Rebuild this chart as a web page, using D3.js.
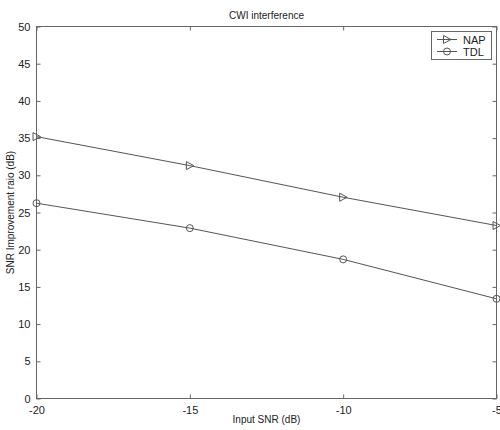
<!DOCTYPE html>
<html>
<head>
<meta charset="utf-8">
<script src="https://cdn.jsdelivr.net/npm/d3@7"></script>
<style>
  body { margin: 0; background: #fff; }
  text { font-family: "Liberation Sans", Arial, sans-serif; fill: #222; }
</style>
</head>
<body>
<script>
var width = 500,
    height = 430;

var inputSnr = [-20, -15, -10, -5];
var napValues = [35.2, 31.3, 27.05, 23.25];
var tdlValues = [26.25, 22.9, 18.7, 13.4];
var xTicks = [-20, -15, -10, -5];
var yTicks = [0, 5, 10, 15, 20, 25, 30, 35, 40, 45, 50];

// plot box (note: "top" is a window property, so use other names)
var boxLeft = 36.5, boxRight = 496.5, boxTop = 26.5, boxBottom = 398.5;

var svg = d3.select("body").append("svg")
    .attr("width", width)
    .attr("height", height);

var x = d3.scaleLinear().domain([-20, -5]).range([boxLeft, boxRight]);
var y = d3.scaleLinear().domain([0, 50]).range([boxBottom, boxTop]);

var axisColor = "#666";

// box
svg.append("rect")
  .attr("x", boxLeft).attr("y", boxTop)
  .attr("width", boxRight - boxLeft).attr("height", boxBottom - boxTop)
  .attr("fill", "none").attr("stroke", axisColor).attr("stroke-width", 1);

function styleAxis(g)
{
  g.select(".domain").remove();
  g.selectAll(".tick line").attr("stroke", axisColor);
  g.selectAll(".tick text").attr("font-size", 11).attr("fill", "#222")
    .style("font-family", "Liberation Sans, Arial, sans-serif");
}

// plain hyphen minus like the original
function fmt(d) { return String(d); }

// ticks point inward on all four sides
svg.append("g")
  .attr("transform", "translate(0," + boxBottom + ")")
  .call(d3.axisBottom(x).tickValues(xTicks).tickSize(-4).tickPadding(8).tickFormat(fmt))
  .call(styleAxis);

svg.append("g")
  .attr("transform", "translate(0," + boxTop + ")")
  .call(d3.axisTop(x).tickValues(xTicks).tickSize(-4).tickFormat(""))
  .call(styleAxis);

svg.append("g")
  .attr("transform", "translate(" + boxLeft + ",0)")
  .call(d3.axisLeft(y).tickValues(yTicks).tickSize(-4).tickPadding(6).tickFormat(fmt))
  .call(styleAxis);

svg.append("g")
  .attr("transform", "translate(" + boxRight + ",0)")
  .call(d3.axisRight(y).tickValues(yTicks).tickSize(-4).tickFormat(""))
  .call(styleAxis);

// series
var lineColor = "#555";
var line = d3.line()
  .x(function(d, i){ return x(inputSnr[i]); })
  .y(function(d){ return y(d); });

svg.append("path").datum(napValues)
  .attr("d", line).attr("fill", "none").attr("stroke", lineColor).attr("stroke-width", 1);
svg.append("path").datum(tdlValues)
  .attr("d", line).attr("fill", "none").attr("stroke", lineColor).attr("stroke-width", 1);

function triangle(cx, cy)
{
  return "M" + (cx - 3.5) + "," + (cy - 4) + " L" + (cx + 4) + "," + cy + " L" + (cx - 3.5) + "," + (cy + 4) + " Z";
}

svg.selectAll(".nap").data(napValues).enter().append("path")
  .attr("class", "nap")
  .attr("d", function(d, i){ return triangle(x(inputSnr[i]), y(d)); })
  .attr("fill", "none").attr("stroke", lineColor).attr("stroke-width", 1);

svg.selectAll(".tdl").data(tdlValues).enter().append("circle")
  .attr("class", "tdl")
  .attr("cx", function(d, i){ return x(inputSnr[i]); })
  .attr("cy", function(d){ return y(d); })
  .attr("r", 3.5)
  .attr("fill", "none").attr("stroke", lineColor).attr("stroke-width", 1);

// legend
var legend = svg.append("g");
legend.append("rect")
  .attr("x", 431.5).attr("y", 31.5).attr("width", 60).attr("height", 28)
  .attr("fill", "#fff").attr("stroke", axisColor);
legend.append("line").attr("x1", 437).attr("x2", 457).attr("y1", 39.5).attr("y2", 39.5).attr("stroke", lineColor);
legend.append("path").attr("d", triangle(447, 39.5)).attr("fill", "none").attr("stroke", lineColor);
legend.append("text").attr("x", 463).attr("y", 43.5).attr("font-size", 11).text("NAP");
legend.append("line").attr("x1", 437).attr("x2", 457).attr("y1", 51.5).attr("y2", 51.5).attr("stroke", lineColor);
legend.append("circle").attr("cx", 447).attr("cy", 51.5).attr("r", 3.5).attr("fill", "none").attr("stroke", lineColor);
legend.append("text").attr("x", 463).attr("y", 55.5).attr("font-size", 11).text("TDL");

// labels
svg.append("text").attr("x", (boxLeft + boxRight) / 2).attr("y", 19)
  .attr("text-anchor", "middle").attr("font-size", 10).text("CWI interference");
svg.append("text").attr("x", (boxLeft + boxRight) / 2).attr("y", 423)
  .attr("text-anchor", "middle").attr("font-size", 10).text("Input SNR (dB)");
svg.append("text")
  .attr("transform", "translate(14," + ((boxTop + boxBottom) / 2) + ") rotate(-90)")
  .attr("text-anchor", "middle").attr("font-size", 10).text("SNR Improvement raio (dB)");
</script>
</body>
</html>
